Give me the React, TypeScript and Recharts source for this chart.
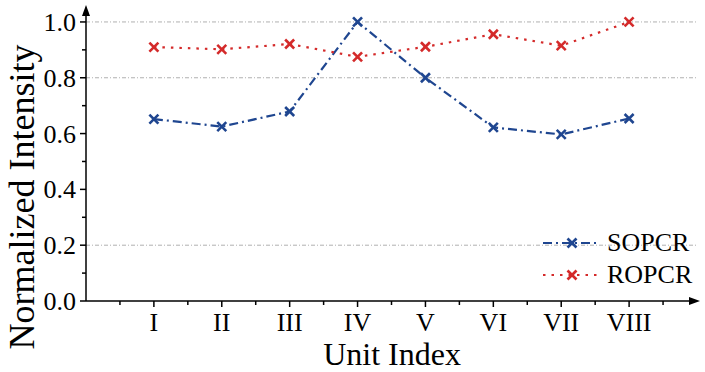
import { LineChart, Line, XAxis, YAxis, CartesianGrid } from "recharts";

const units = ["I", "II", "III", "IV", "V", "VI", "VII", "VIII"];
const sopcr = [0.652, 0.625, 0.679, 1.0, 0.8, 0.622, 0.597, 0.654];
const ropcr = [0.91, 0.902, 0.921, 0.875, 0.911, 0.956, 0.915, 1.0];
const xTicks = [0.5, 1, 1.5, 2, 2.5, 3, 3.5, 4, 4.5, 5, 5.5, 6, 6.5, 7, 7.5, 8, 8.5];
const yTicks = [0, 0.1, 0.2, 0.3, 0.4, 0.5, 0.6, 0.7, 0.8, 0.9, 1.0];
const gridValues = [0.2, 0.8, 1.0];

const data = units.map((u, i) => ({ pos: i + 1, unit: u, sopcr: sopcr[i], ropcr: ropcr[i] }));

const BLUE = "#1f4690";
const RED = "#d42a2a";
const FONT = "'Liberation Serif', 'Times New Roman', serif";
const txt = { fontFamily: FONT, fill: "#000" };

const Cross = ({ cx, cy, color }: any) => {
  if (cx == null || cy == null) return null;
  const s = 4.5;
  return (
    <g stroke={color} strokeWidth={2.6}>
      <line x1={cx - s} y1={cy - s} x2={cx + s} y2={cy + s} />
      <line x1={cx - s} y1={cy + s} x2={cx + s} y2={cy - s} />
    </g>
  );
};

const XTick = ({ x, y, payload }: any) => {
  const v = payload.value;
  const major = Number.isInteger(v);
  return (
    <g>
      <line x1={x} y1={y} x2={x} y2={y + (major ? 6 : 4)} stroke="#000" strokeWidth={1.5} />
      {major && (
        <text x={x} y={y + 30} textAnchor="middle" style={{ ...txt, fontSize: 26 }}>
          {units[v - 1]}
        </text>
      )}
    </g>
  );
};

const YTick = ({ x, y, payload }: any) => {
  const v = payload.value;
  const major = Math.round(v * 10) % 2 === 0;
  return (
    <g>
      <line x1={x} y1={y} x2={x - (major ? 6 : 4)} y2={y} stroke="#000" strokeWidth={1.5} />
      {major && (
        <text x={x - 10} y={y + 9} textAnchor="end" style={{ ...txt, fontSize: 26 }}>
          {v.toFixed(1)}
        </text>
      )}
    </g>
  );
};

const YLabel = () => (
  <text transform="translate(34,197) rotate(-90)" textAnchor="middle" style={{ ...txt, fontSize: 36 }}>
    Normalized Intensity
  </text>
);

const XLabel = () => (
  <text x={392} y={365} textAnchor="middle" style={{ ...txt, fontSize: 32 }}>
    Unit Index
  </text>
);

const series = [
  { name: "SOPCR", color: BLUE, dash: "9 4 2 4" },
  { name: "ROPCR", color: RED, dash: "2.5 6" },
];

const LegendBox = () => (
  <div
    style={{
      position: "absolute",
      left: 540,
      top: 227,
      fontFamily: FONT,
      fontSize: 26,
      color: "#000",
      lineHeight: "32px",
    }}
  >
    {series.map((s) => (
      <div key={s.name} style={{ display: "flex", alignItems: "center", height: 32 }}>
        <svg width={62} height={20}>
          <line x1={3} y1={10} x2={58} y2={10} stroke={s.color} strokeWidth={2.2} strokeDasharray={s.dash} />
          <Cross cx={32} cy={10} color={s.color} />
        </svg>
        <span style={{ marginLeft: 5 }}>{s.name}</span>
      </div>
    ))}
  </div>
);

export default function App() {
  return (
    <div style={{ position: "absolute", left: 0, top: 0, width: 705, height: 372, background: "#fff" }}>
      <LineChart width={705} height={372} data={data} margin={{ top: 8, right: 8, bottom: 0, left: 0 }}>
        <CartesianGrid
          vertical={false}
          horizontalValues={gridValues}
          stroke="#b0b0b0"
          strokeDasharray="4 2 1 2"
        />
        <XAxis
          dataKey="pos"
          type="number"
          domain={[0, 9]}
          ticks={xTicks}
          interval={0}
          height={71}
          tickSize={0}
          tickMargin={0}
          tick={<XTick />}
          axisLine={{ stroke: "#000", strokeWidth: 1.5 }}
          label={{ content: <XLabel /> }}
        />
        <YAxis
          type="number"
          domain={[0, 1.05]}
          ticks={yTicks}
          interval={0}
          width={86}
          tickSize={0}
          tickMargin={0}
          tick={<YTick />}
          axisLine={{ stroke: "#000", strokeWidth: 1.5 }}
          label={{ content: <YLabel /> }}
        />
        <Line
          dataKey="sopcr"
          name="SOPCR"
          stroke={BLUE}
          strokeWidth={2.2}
          strokeDasharray="9 4 2 4"
          dot={<Cross color={BLUE} />}
          activeDot={false}
          isAnimationActive={false}
        />
        <Line
          dataKey="ropcr"
          name="ROPCR"
          stroke={RED}
          strokeWidth={2.2}
          strokeDasharray="2.5 6"
          dot={<Cross color={RED} />}
          activeDot={false}
          isAnimationActive={false}
        />
      </LineChart>
      <LegendBox />
      <svg width={705} height={372} style={{ position: "absolute", left: 0, top: 0, pointerEvents: "none" }}>
        <polygon points="86,5 82,16 90,16" fill="#000" />
        <polygon points="700,301 689,297 689,305" fill="#000" />
      </svg>
    </div>
  );
}
